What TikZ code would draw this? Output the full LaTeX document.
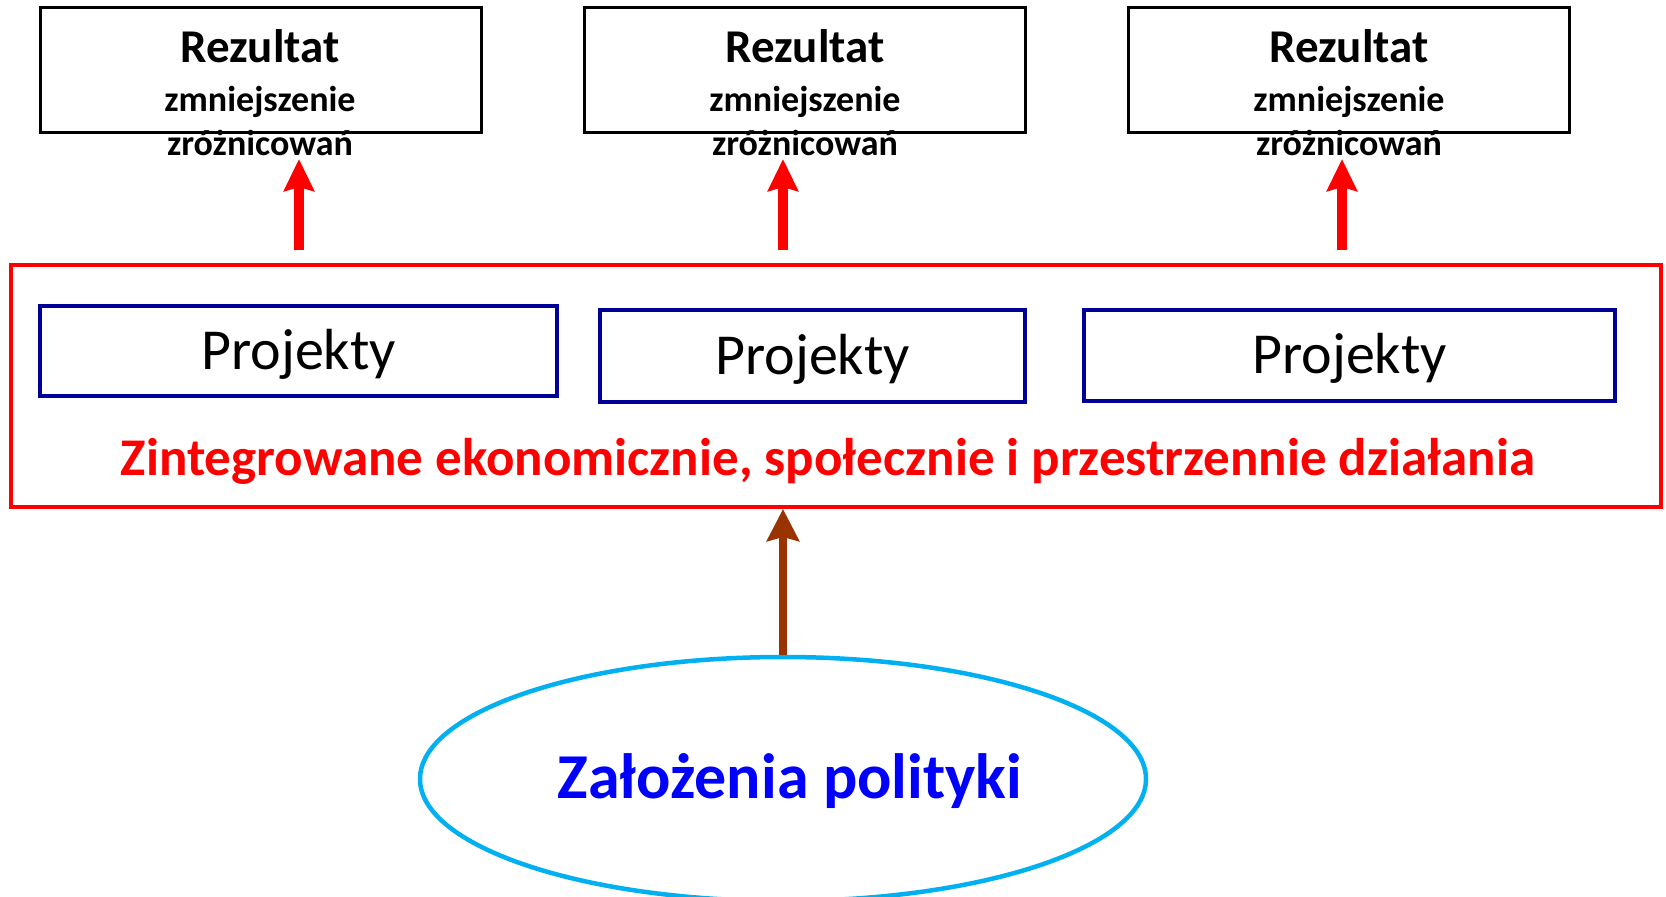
\documentclass[tikz,border=0pt]{standalone}
\usepackage{fontspec}
\setmainfont{Carlito}
\usetikzlibrary{arrows.meta,shapes.geometric}
\definecolor{projblue}{RGB}{0,0,153}
\definecolor{polcyan}{RGB}{0,176,240}
\definecolor{polbrown}{RGB}{153,51,0}

\begin{document}
\begin{tikzpicture}[x = 1pt, y = -1pt,
  resbox/.style = {draw, line width = 3pt, minimum width = 441pt, minimum height = 125pt},
  restext/.style = {align = center, inner sep = 0pt, font = \bfseries\fontsize{36}{44}\selectfont},
  projbox/.style = {draw = projblue, line width = 4.5pt, text height = 48pt, text depth = 12pt, font = \fontsize{58}{60}\selectfont},
  uparrow/.style = {red, line width = 10pt, -{Stealth[length = 32pt, width = 30pt, inset = 4pt]}}]
\useasboundingbox (0,0) rectangle (1666,897);
% results
\node [resbox] (res1) at (260.5,69.5) {};
\node [resbox] (res2) at (805,69.5) {};
\node [resbox] (res3) at (1349,69.5) {};
\node [restext, anchor = north] (rt1) at (260,29) {{\fontsize{47}{47}\selectfont Rezultat}\\[5pt]zmniejszenie\\zróżnicowań};
\node [restext, anchor = north] (rt2) at (805,29) {{\fontsize{47}{47}\selectfont Rezultat}\\[5pt]zmniejszenie\\zróżnicowań};
\node [restext, anchor = north] (rt3) at (1349,29) {{\fontsize{47}{47}\selectfont Rezultat}\\[5pt]zmniejszenie\\zróżnicowań};
% actions
\node [draw = red, line width = 4pt, minimum width = 1650pt, minimum height = 242pt] (act) at (836,386) {};
\node [projbox, minimum width = 517pt, minimum height = 90pt] (p1) at (298.5,351) {Projekty};
\node [projbox, minimum width = 425pt, minimum height = 92pt] (p2) at (812.5,356) {Projekty};
\node [projbox, minimum width = 531pt, minimum height = 91pt] (p3) at (1349.5,355.5) {Projekty};
\node [red, font = \bfseries\fontsize{53}{54}\selectfont] (acttext) at (828,461) {Zintegrowane ekonomicznie, społecznie i przestrzennie działania};
% arrows to results
\coordinate (a1) at (299,250);
\coordinate (h1) at (299,159);
\coordinate (a2) at (783,250);
\coordinate (h2) at (783,159);
\coordinate (a3) at (1342,250);
\coordinate (h3) at (1342,159);
\draw [uparrow] (a1) -- (h1);
\draw [uparrow] (a2) -- (h2);
\draw [uparrow] (a3) -- (h3);
% policy
\node [ellipse, draw = polcyan, line width = 4.5pt, minimum width = 726pt, minimum height = 244pt] (pol) at (783,779) {};
\node [blue, font = \bfseries\fontsize{64}{64}\selectfont] (poltext) at (790,781) {Założenia polityki};
\draw [polbrown, line width = 8pt, -{Stealth[length = 32pt, width = 32pt, inset = 4pt]}] (pol.north) -- (pol.north |- act.south);
\end{tikzpicture}
\end{document}
